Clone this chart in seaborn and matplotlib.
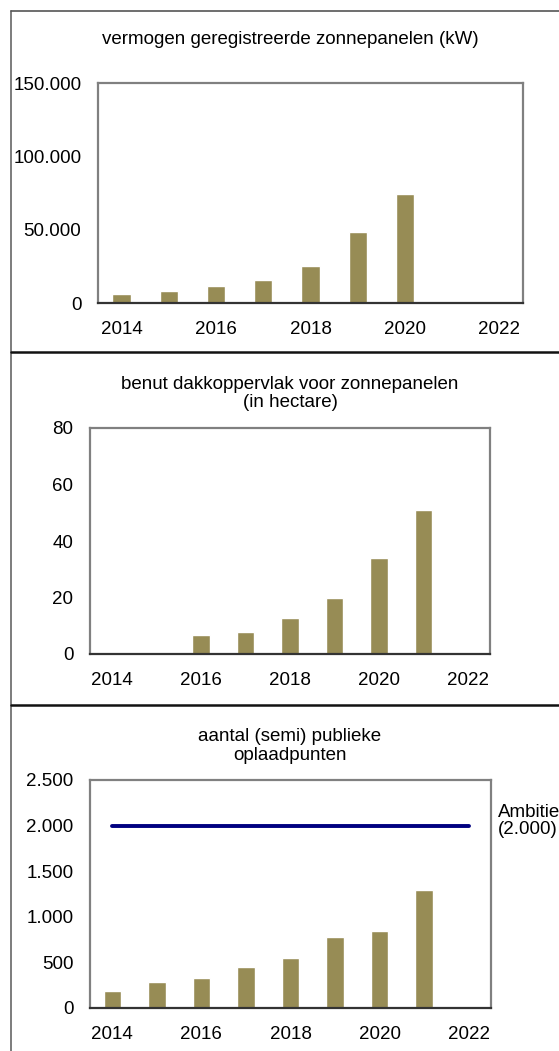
import pandas as pd
import matplotlib.pyplot as plt
import seaborn as sns
from matplotlib.lines import Line2D
from matplotlib.ticker import FuncFormatter
from matplotlib.transforms import blended_transform_factory, offset_copy

# --- Data ---
YEARS = [2014, 2015, 2016, 2017, 2018, 2019, 2020, 2021, 2022]

SOLAR_YEARS = [2014, 2015, 2016, 2017, 2018, 2019, 2020]
SOLAR_KW = [6400, 8400, 11800, 15500, 25000, 48200, 74300]

ROOF_YEARS = [2016, 2017, 2018, 2019, 2020, 2021]
ROOF_HA = [6.8, 7.9, 12.8, 19.9, 34, 51]

CHARGE_YEARS = [2014, 2015, 2016, 2017, 2018, 2019, 2020, 2021]
CHARGE_POINTS = [190, 290, 334, 447, 546, 781, 843, 1290]
AMBITIE = 2000

TITLES = [
    "vermogen geregistreerde zonnepanelen (kW)",
    "benut dakkoppervlak voor zonnepanelen\n(in hectare)",
    "aantal (semi) publieke\noplaadpunten",
]

BAR_COLOR = "#978c55"
LINE_COLOR = "#000080"
W, H = 559, 1051


def dutch(v, pos):
    return f"{v:,.0f}".replace(",", ".")


def px_rect(left, top, right, bottom):
    return [left / W, 1 - bottom / H, (right - left) / W, (bottom - top) / H]


def style_axes(ax, ymax, step):
    ax.set_xlim(-0.5, len(YEARS) - 0.5)
    ax.set_ylim(0, ymax)
    ax.set_yticks(range(0, ymax + 1, step))
    ax.yaxis.set_major_formatter(FuncFormatter(dutch))
    ax.set_xticks(range(len(YEARS)))
    ax.set_xticklabels([str(y) if y % 2 == 0 else "" for y in YEARS])
    ax.set_xlabel("")
    ax.set_ylabel("")
    for side in ["top", "right", "left"]:
        ax.spines[side].set_color("#808080")
        ax.spines[side].set_linewidth(1.6)
    ax.spines["bottom"].set_color("#333333")
    ax.spines["bottom"].set_linewidth(1.6)
    ax.tick_params(axis="x", direction="in", length=3, width=1, color="#333333",
                   pad=13, labelsize=13.5, labelcolor="black")
    ax.tick_params(axis="y", length=0, pad=12, labelsize=13.5, labelcolor="black")
    ax.grid(False)
    ax.set_facecolor("white")


def bar_panel(ax, years, values):
    df = pd.DataFrame({"jaar": years, "waarde": values})
    sns.barplot(data=df, x="jaar", y="waarde", order=YEARS, color=BAR_COLOR,
                saturation=1, width=0.39, ax=ax)


sns.set_theme(style="white")
plt.rcParams["font.family"] = ["Liberation Sans", "DejaVu Sans"]
plt.rcParams["text.color"] = "black"

fig = plt.figure(figsize=(W / 100, H / 100), dpi=100)
fig.patch.set_facecolor("white")

ax1 = fig.add_axes(px_rect(98, 83, 523, 303))
bar_panel(ax1, SOLAR_YEARS, SOLAR_KW)
style_axes(ax1, 150000, 50000)

ax2 = fig.add_axes(px_rect(90, 428, 490, 654))
bar_panel(ax2, ROOF_YEARS, ROOF_HA)
style_axes(ax2, 80, 20)

ax3 = fig.add_axes(px_rect(90, 780, 491, 1008))
bar_panel(ax3, CHARGE_YEARS, CHARGE_POINTS)
style_axes(ax3, 2500, 500)
ax3.plot([0, len(YEARS) - 1], [AMBITIE, AMBITIE], color=LINE_COLOR, lw=2.8,
         solid_capstyle="round", zorder=3)
trans = offset_copy(blended_transform_factory(ax3.transAxes, ax3.transData),
                    fig=fig, x=0, y=3, units="points")
ax3.text(1.018, AMBITIE, "Ambitie\n(2.000)", transform=trans, ha="left",
         va="center", fontsize=13.5, linespacing=1.0, clip_on=False)

# titles
fig.text(290 / W, 1 - 40 / H, TITLES[0], ha="center", va="center", fontsize=13.5)
fig.text(290 / W, 1 - 393.5 / H, TITLES[1], ha="center", va="center", fontsize=13.5,
         linespacing=1.12)
fig.text(290 / W, 1 - 746 / H, TITLES[2], ha="center", va="center", fontsize=13.5,
         linespacing=1.12)

# outer frame and panel dividers
fig.add_artist(Line2D([11 / W, 11 / W], [0, 1 - 11 / H], color="#666666", lw=1.2))
fig.add_artist(Line2D([11 / W, 1], [1 - 11 / H, 1 - 11 / H], color="#555555", lw=1.2))
for y in [352, 705]:
    fig.add_artist(Line2D([11 / W, 1], [1 - y / H, 1 - y / H], color="#111111", lw=1.8))

fig.savefig("out.png", dpi=100, facecolor="white")
